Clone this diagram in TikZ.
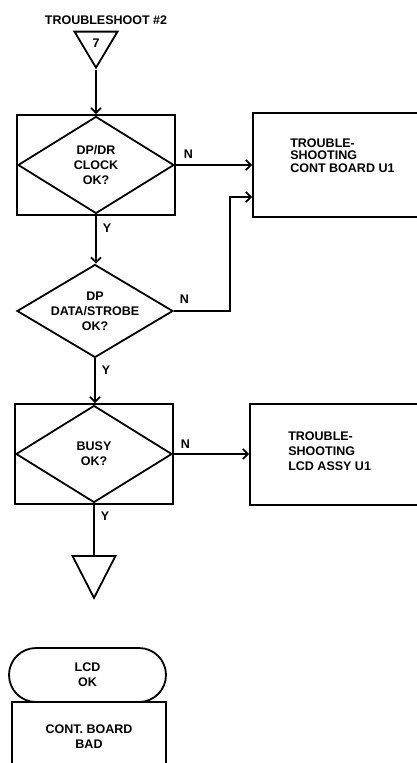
\documentclass[tikz,border=0pt]{standalone}
\usepackage{fontspec}
\setmainfont{Liberation Sans}
\usetikzlibrary{shapes.geometric,arrows.meta,positioning}

\begin{document}
\begin{tikzpicture}[
        x=1pt, y=-1pt, % pixel coordinates, y runs downwards
        line width=1.8pt,
        every node/.style={font=\bfseries\fontsize{12.5}{15}\selectfont},
        flow/.style={draw, -{Straight Barb[length=5pt,width=10pt]}},
        link/.style={draw},
        lbl/.style={inner sep=0pt},
        testframe/.style={draw, rectangle, minimum width=158pt, minimum height=100pt},
        ask/.style={draw, diamond, inner sep=0pt, aspect=1.7, minimum width=156pt, align=center},
        actbox/.style={draw, rectangle, minimum width=178pt, minimum height=104pt},
        term/.style={draw, rectangle, rounded corners=27pt, minimum width=157pt, minimum height=54pt, align=center},
        offpage/.style={draw, isosceles triangle, isosceles triangle stretches, shape border rotate=270, inner sep=0pt, minimum width=43pt},
    ]
    \useasboundingbox (0,0) rectangle (416,763);

    % entry
    \node (title) at (106,20) {TROUBLESHOOT \#2};
    \node[offpage, minimum height=36pt, anchor=apex] (in7) at (96,70) {7};

    % first test
    \node[testframe] (f1) at (96,165) {};
    \node[ask, minimum height=97pt] (clock) at (f1.center) {DP/DR\\CLOCK\\OK?};
    \node[actbox] (cont) at (342,165) {};
    \node[anchor=north west, align=left, font=\bfseries\fontsize{12.5}{12.5}\selectfont] (contt)
        at ([xshift=34pt,yshift=-22pt]cont.north west) {TROUBLE-\\SHOOTING\\CONT BOARD U1};

    % second test
    \node[ask, minimum height=93pt] (strobe) at (95,311) {DP\\DATA/STROBE\\OK?};
    \coordinate (jog) at (230,197);

    % third test
    \node[testframe] (f3) at (94,454) {};
    \node[ask, minimum height=97pt] (busy) at (f3.center) {BUSY\\OK?};
    \node[actbox, minimum width=180pt, minimum height=101pt] (lcd) at (340,454.5) {};
    \node[anchor=north west, align=left] (lcdt)
        at ([xshift=35pt,yshift=-24pt]lcd.north west) {TROUBLE-\\SHOOTING\\LCD ASSY U1};

    \node[offpage, minimum height=42pt, anchor=lower side] (out) at (94,555) {};

    % result
    \node[term] (lcdok) at (87.5,675) {LCD\\OK};
    \node[actbox, minimum width=154pt, minimum height=70pt, align=center] (bad) at (89,737) {CONT. BOARD\\BAD};

    % connectors
    \draw[flow] (in7.apex) -- (f1.north);
    \draw[flow] (clock.east) node[lbl, above right=6pt and 8pt] {N} -- (cont.west |- clock.east);
    \draw[flow] (clock.south) node[lbl, below right=9pt and 6pt] {Y} -- (clock.south |- strobe.north);
    \draw[flow] (strobe.east) node[lbl, above right=7pt and 5pt] {N} -| (jog) -- (cont.west |- jog);
    \draw[flow] (strobe.south) node[lbl, below right=7pt and 6pt] {Y} -- (strobe.south |- f3.north);
    \draw[flow] (busy.east) node[lbl, above right=5pt and 7pt] {N} -- (lcd.west |- busy.east);
    \draw[link] (busy.south) node[lbl, below right=8pt and 6pt] {Y} -- (out.lower side);
\end{tikzpicture}
\end{document}
